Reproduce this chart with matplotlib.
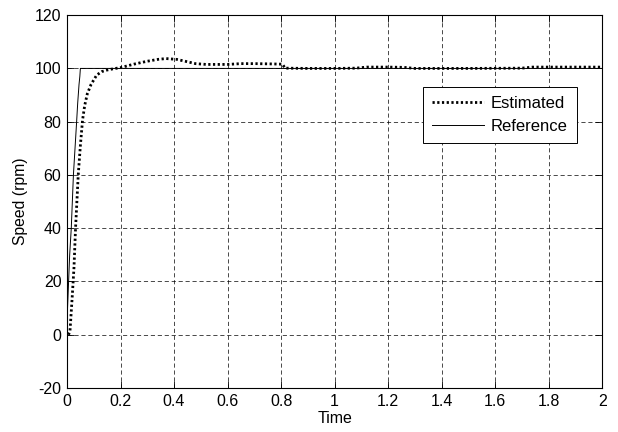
import matplotlib
matplotlib.use("Agg")
import matplotlib.pyplot as plt

plt.rcParams['font.family'] = ['Liberation Sans', 'DejaVu Sans']
plt.rcParams['font.size'] = 11.5
plt.rcParams['axes.unicode_minus'] = False

# reference speed command (fast staircase up to 100 rpm)
t_ref = [0.0, 0.002, 0.006, 0.010, 0.016, 0.020, 0.024, 0.030, 0.036, 0.040, 0.045, 0.048, 0.050, 2.0]
w_ref = [6.0, 10.0, 20.0, 30.0, 40.0, 50.0, 60.0, 70.0, 80.0, 87.0, 94.0, 97.0, 100.0, 100.0]

# estimated speed from the observer
t_est = [0.005, 0.011, 0.020, 0.026, 0.032, 0.042, 0.050, 0.058, 0.066, 0.076, 0.090, 0.111,
         0.130, 0.150, 0.175, 0.200, 0.250, 0.300, 0.340, 0.370, 0.410, 0.450, 0.480,
         0.520, 0.600, 0.650, 0.700, 0.760, 0.805, 0.815, 0.900, 1.000, 1.080, 1.120,
         1.200, 1.260, 1.300, 1.500, 1.700, 1.740, 1.800, 2.000]
w_est = [0.0, 1.0, 15.0, 25.0, 40.0, 60.0, 71.0, 80.5, 86.0, 90.5, 94.0, 97.5,
         98.8, 99.4, 99.9, 100.3, 101.6, 102.7, 103.4, 103.7, 103.4, 102.5, 101.8,
         101.5, 101.5, 101.8, 101.8, 101.7, 101.6, 100.1, 100.0, 100.0, 100.1, 100.5,
         100.5, 100.4, 100.0, 100.0, 100.1, 100.5, 100.5, 100.5]

fig = plt.figure(figsize=(6.18, 4.32), dpi=100)
ax = fig.add_axes([0.1084, 0.1019, 0.866, 0.863])

ax.plot(t_est, w_est, color='k', lw=2.0, linestyle=(0, (0.8, 0.9)), label='Estimated')
ax.plot(t_ref, w_ref, color='k', lw=0.7, label='Reference')

ax.set_xlim(0, 2)
ax.set_ylim(-20, 120)
ax.set_xticks([0, 0.2, 0.4, 0.6, 0.8, 1, 1.2, 1.4, 1.6, 1.8, 2])
ax.set_xticklabels(['0', '0.2', '0.4', '0.6', '0.8', '1', '1.2', '1.4', '1.6', '1.8', '2'])
ax.set_yticks(range(-20, 121, 20))
ax.tick_params(direction='in', top=True, right=True, length=5, width=0.6, pad=4)
ax.grid(True, color='k', lw=0.5, linestyle=(0, (6, 4)))
for s in ax.spines.values():
    s.set_linewidth(0.8)

ax.set_xlabel('Time', fontsize=11.5, labelpad=2)
ax.set_ylabel('Speed (rpm)', fontsize=11.3, labelpad=5)

leg = ax.legend(loc='upper left', bbox_to_anchor=(0.6654, 0.807), fancybox=False,
                edgecolor='k', framealpha=1, fontsize=12, handlelength=3.1,
                borderaxespad=0, handletextpad=0.42, labelspacing=0.45, borderpad=0.55)
leg.get_frame().set_linewidth(0.7)

fig.savefig('out.png', dpi=100)
